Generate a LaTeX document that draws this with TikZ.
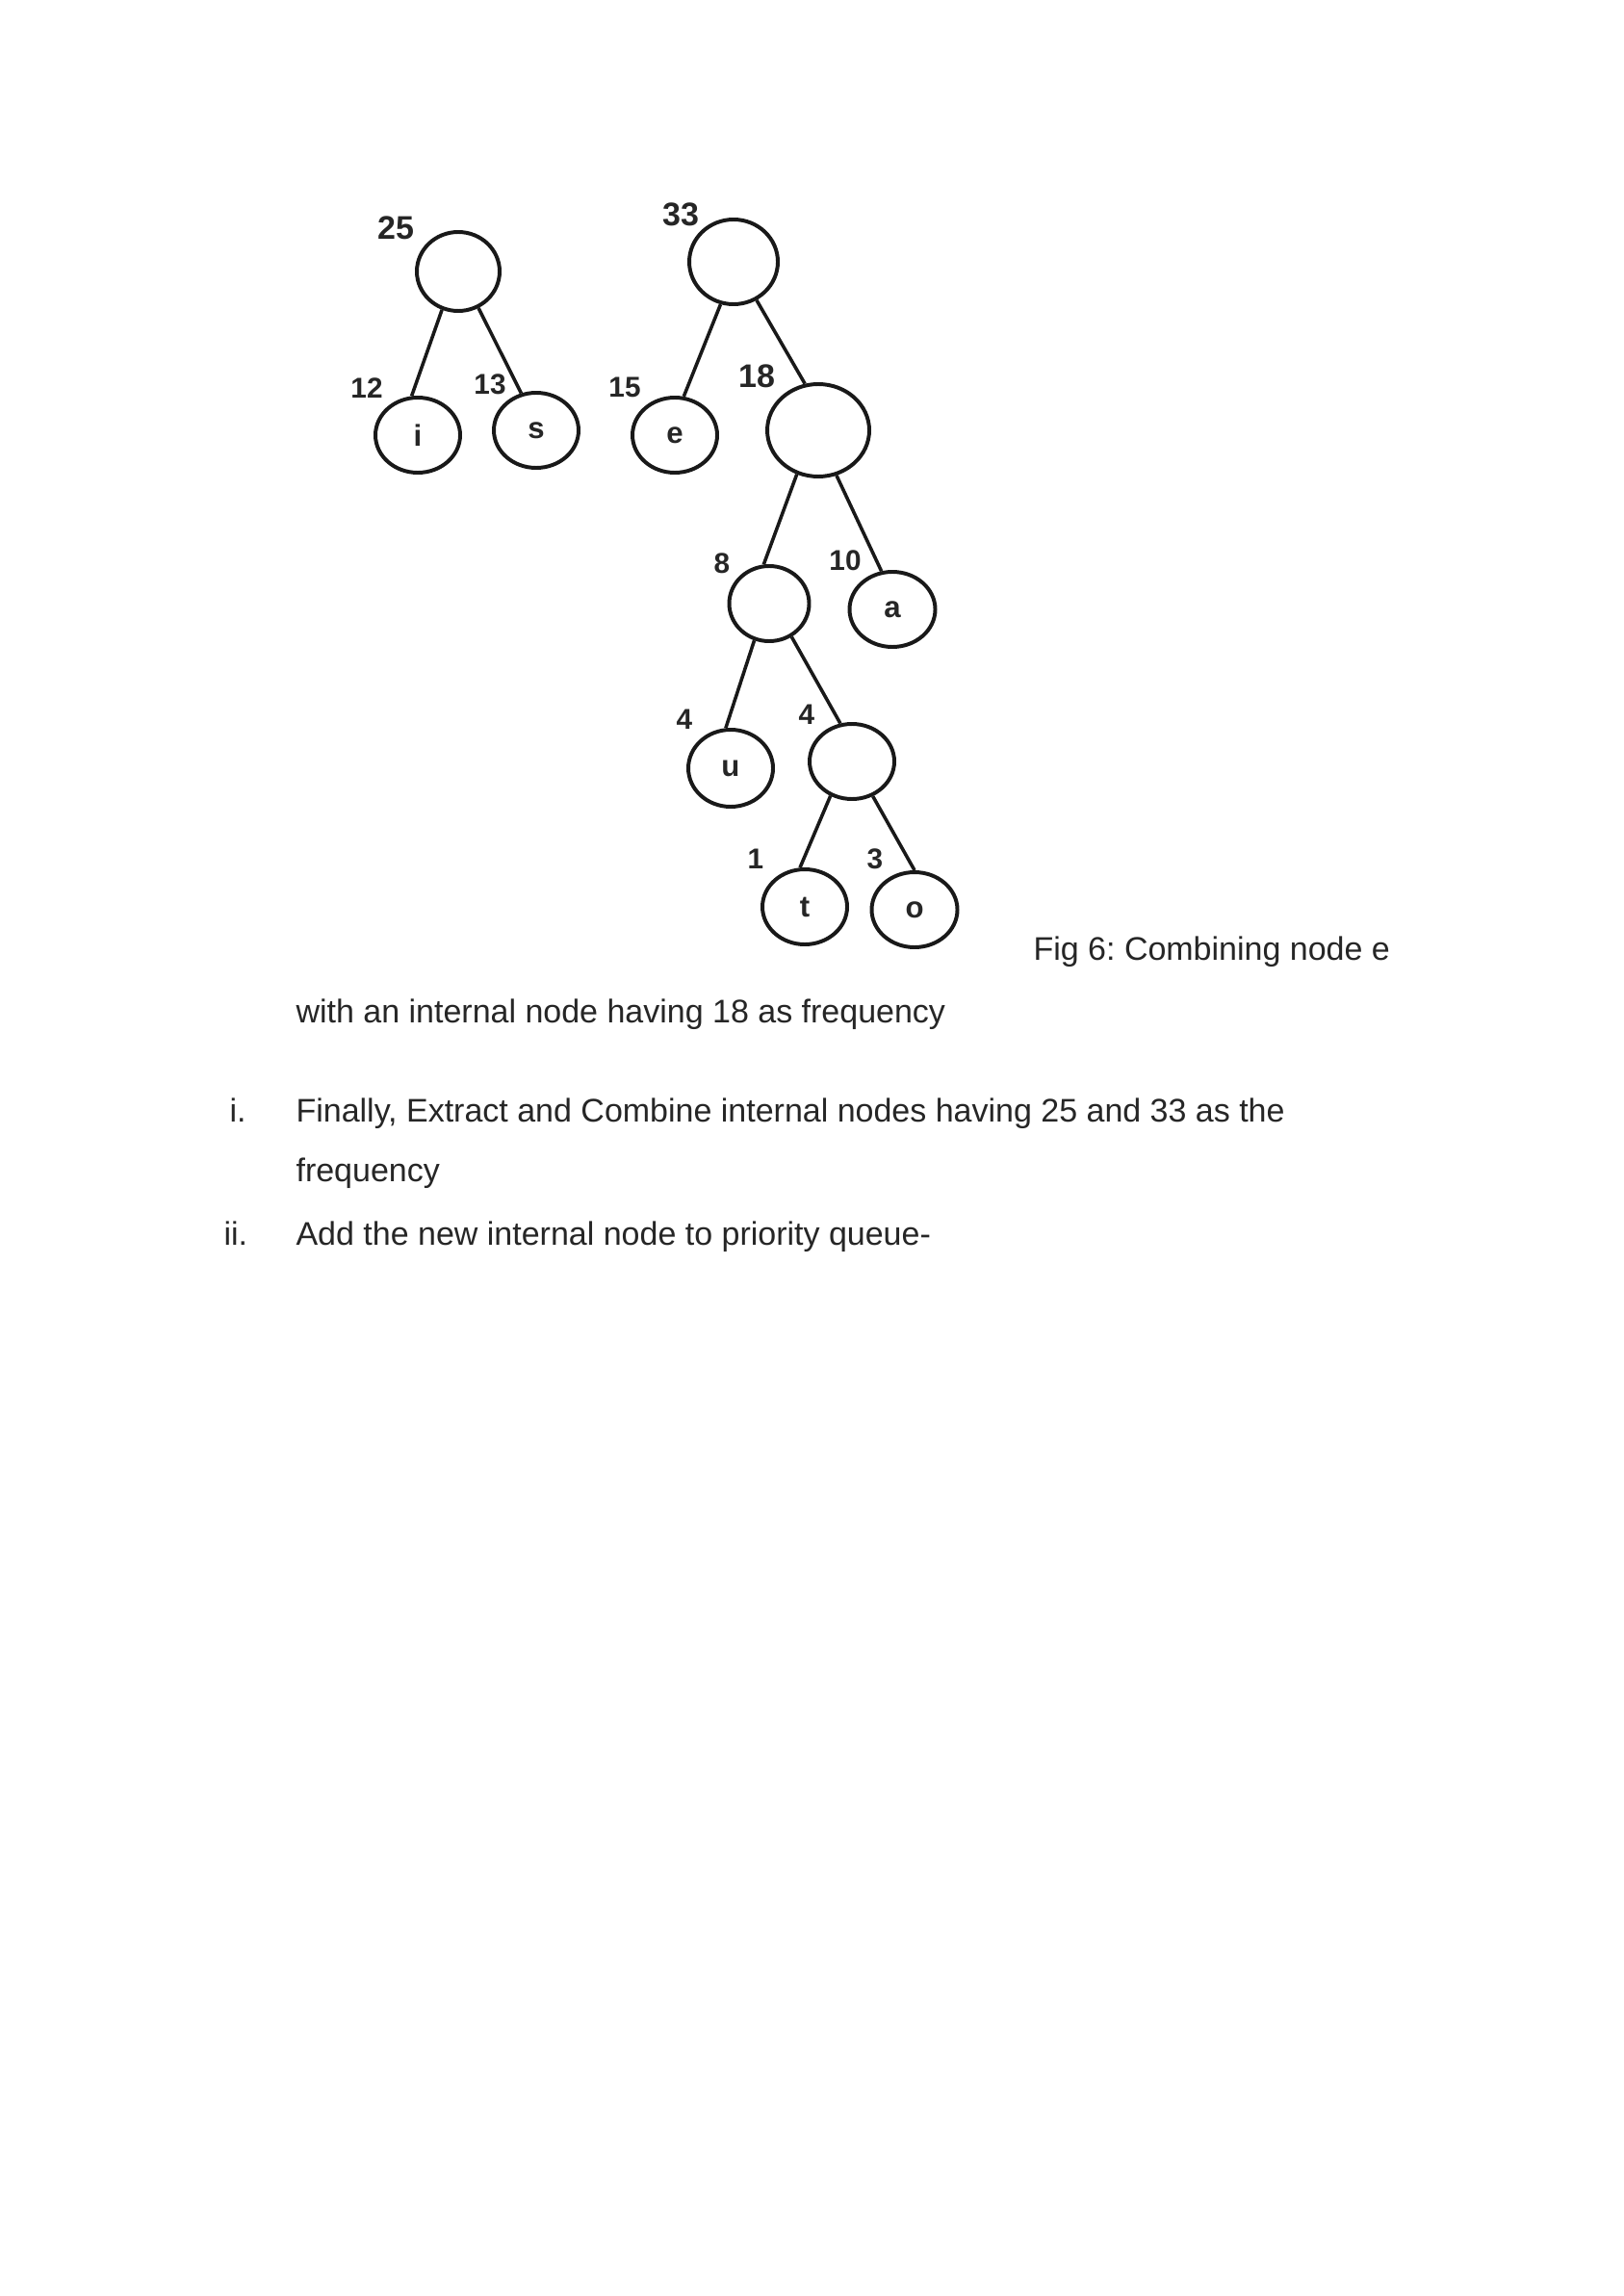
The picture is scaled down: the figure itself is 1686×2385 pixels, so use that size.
\documentclass[tikz,border=0pt]{standalone}
\usepackage{fontspec}
\setmainfont{Liberation Sans}
\usetikzlibrary{shapes.geometric}
\frenchspacing
\tikzset{
  nd/.style={draw=black!90, ellipse, line width=1.4pt, inner sep=0pt, font=\fontsize{11}{13}\selectfont\bfseries, text=black!85},
  sz/.style 2 args={minimum width={#1*0.35308pt}, minimum height={#2*0.35308pt}},
  wt/.style={font=\fontsize{10.5}{12}\selectfont\bfseries, inner sep=0pt, text=black!85},
  wtb/.style={font=\fontsize{12}{14}\selectfont\bfseries, inner sep=0pt, text=black!85},
  edge/.style={line width=1.25pt, draw=black!90},
  body/.style={font=\fontsize{12}{14}\selectfont, anchor=base west, inner sep=0pt, text=black!85}
}
\begin{document}
\begin{tikzpicture}[x=0.35308pt, y=-0.35308pt]
\useasboundingbox (0,0) rectangle (1686,2385);
\fill[white] (0,0) rectangle (1686,2385);

% tree nodes
\node[nd, sz={86}{82}] (r25) at (476,282) {};
\node[nd, sz={88}{78}] (i) at (434,452) {i};
\node[nd, sz={88}{78}] (s) at (557,447) {s};
\node[nd, sz={92}{88}] (r33) at (762,272) {};
\node[nd, sz={88}{78}] (e) at (701,452) {e};
\node[nd, sz={106}{96}] (n18) at (850,447) {};
\node[nd, sz={83}{78}] (n8) at (799,627) {};
\node[nd, sz={89}{78}] (a) at (927,633) {a};
\node[nd, sz={88}{80}] (u) at (759,798) {u};
\node[nd, sz={88}{78}] (n4) at (885,791) {};
\node[nd, sz={88}{78}] (t) at (836,942) {t};
\node[nd, sz={89}{78}] (o) at (950,945) {o};

% edges
\draw[edge] (r25.247) -- (i.99);
\draw[edge] (r25.299) -- (s.112);
\draw[edge] (r33.253) -- (e.77);
\draw[edge] (r33.301) -- (n18.106);
\draw[edge] (n18.244) -- (n8.98);
\draw[edge] (n18.292) -- (a.106);
\draw[edge] (n8.248) -- (u.97);
\draw[edge] (n8.304) -- (n4.107);
\draw[edge] (n4.238) -- (t.97);
\draw[edge] (n4.301) -- (o.90);

% weights
\node[wtb] (l25) at (411,237) {25};
\node[wt]  (l12) at (381,403) {12};
\node[wt]  (l13) at (509,399) {13};
\node[wtb] (l33) at (707,223) {33};
\node[wt]  (l15) at (649,402) {15};
\node[wtb] (l18) at (786,391) {18};
\node[wt]  (l8)  at (750,585) {8};
\node[wt]  (l10) at (878,582) {10};
\node[wt]  (l4a) at (711,747) {4};
\node[wt]  (l4b) at (838,742) {4};
\node[wt]  (l1)  at (785,892) {1};
\node[wt]  (l3)  at (909,892) {3};

% body text
\node[body] (cap1) at (1073,997) {Fig 6: Combining node e};
\node[body] (cap2) at (307,1062) {with an internal node having 18 as frequency};
\node[body] (n1) at (238,1165) {i.};
\node[body] (t1) at (307,1165) {Finally, Extract and Combine internal nodes having 25 and 33 as the};
\node[body] (t1b) at (307,1227) {frequency};
\node[body] (n2) at (232,1293) {ii.};
\node[body] (t2) at (307,1293) {Add the new internal node to priority queue-};
\end{tikzpicture}
\end{document}
